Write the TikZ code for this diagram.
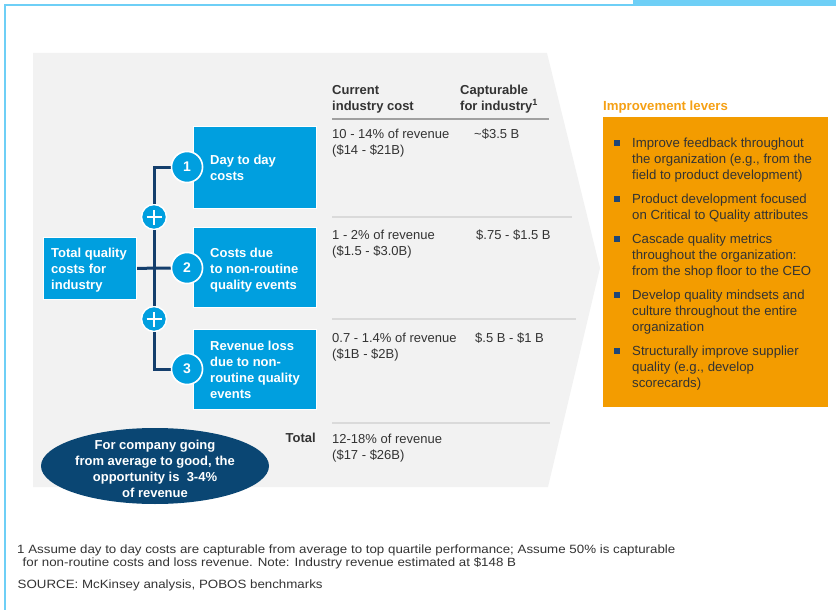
\documentclass[tikz,border=0pt]{standalone}
\usepackage{fontspec}
\setmainfont{Liberation Sans}
\usetikzlibrary{shapes.geometric}
\definecolor{frameblue}{RGB}{110,207,246}
\definecolor{graybg}{RGB}{242,242,242}
\definecolor{boxblue}{RGB}{0,159,223}
\definecolor{navyline}{RGB}{20,62,108}
\definecolor{ellnavy}{RGB}{10,70,115}
\definecolor{levorange}{RGB}{243,156,0}
\definecolor{titleorange}{RGB}{245,160,20}
\definecolor{textgray}{RGB}{51,51,51}
\definecolor{hdrgray}{RGB}{160,160,160}
\definecolor{rowgray}{RGB}{218,218,218}
\definecolor{bulletnavy}{RGB}{30,70,120}
\newcommand\fl{\rule{0pt}{11pt}}
\begin{document}
\begin{tikzpicture}[x=1pt,y=-1pt,
  bluebox/.style={draw=white, line width=1.2pt, fill=boxblue, inner sep=0, anchor=north west},
  boxtext/.style={anchor=north west, inner sep=0, align=left, text=white, font=\bfseries\fontsize{13}{15.8}\selectfont},
  numcircle/.style={circle, fill=boxblue, draw=white, line width=1.5pt, minimum size=31, inner sep=0, text=white, font=\bfseries\fontsize{14}{14}\selectfont},
  pluscircle/.style={circle, fill=boxblue, draw=white, line width=1.5pt, minimum size=25, inner sep=0},
  conn/.style={draw=navyline, line width=3pt},
  hdr/.style={anchor=north west, inner sep=0, align=left, text=textgray, font=\bfseries\fontsize{13}{16}\selectfont},
  tabtext/.style={anchor=north west, inner sep=0, align=left, text=textgray, font=\fontsize{13}{16}\selectfont},
  levtext/.style={anchor=north west, inner sep=0, align=left, text=textgray, font=\fontsize{13.2}{16}\selectfont},
  bsq/.style={rectangle, fill=bulletnavy, minimum size=5.5, inner sep=0},
  foot/.style={anchor=north west, inner sep=0, align=left, text=textgray, font=\fontsize{12}{12.4}\selectfont\addfontfeature{FakeStretch=1.11}}
]
\useasboundingbox (0,0) rectangle (836,610);
% frame
\fill[frameblue] (633,0) rectangle (836,6);
\draw[frameblue, line width=2pt] (5,610) -- (5,5) -- (634,5);
% gray chevron
\fill[graybg] (33,53) -- (547,53) -- (600,268) -- (548,487) -- (33,487) -- cycle;

% boxes
\node[bluebox, minimum width=93, minimum height=62] (b0) at (43,237) {};
\node[bluebox, minimum width=123, minimum height=82] (b1) at (193,126) {};
\node[bluebox, minimum width=123, minimum height=80] (b2) at (193,227) {};
\node[bluebox, minimum width=123, minimum height=80] (b3) at (193,329) {};
\node[boxtext] (t0) at (51,246.3) {\fl Total quality\\costs for\\industry};
\node[boxtext] (t1) at (210,153) {\fl Day to day\\costs};
\node[boxtext] (t2) at (210,246.7) {\fl Costs due\\to non-routine\\quality events};
\node[boxtext] (t3) at (210,339.5) {\fl Revenue loss\\due to non-\\routine quality\\events};

% circles
\node[numcircle] (c1) at (187,167) {1};
\node[numcircle] (c2) at (187,268) {2};
\node[numcircle] (c3) at (187,369) {3};
\node[pluscircle] (p1) at (154,217) {};
\node[pluscircle] (p2) at (154,319) {};

% connectors
\draw[conn] (c1) -| (p1);
\draw[conn] (p1) -- (p2);
\draw[conn] (p2) |- (c3);
\draw[conn] (b0) -- (c2);
\node[numcircle] at (c1) {1};
\node[numcircle] at (c2) {2};
\node[numcircle] at (c3) {3};
\foreach \p in {p1,p2}{
  \draw[white, line width=2.4pt] ([xshift=-7.5pt]\p.center) -- ([xshift=7.5pt]\p.center);
  \draw[white, line width=2.4pt] ([yshift=-7.5pt]\p.center) -- ([yshift=7.5pt]\p.center);
}

% ellipse
\node[ellipse, fill=ellnavy, minimum width=228, minimum height=76, inner sep=0] (ell) at (155,466) {};
\node[anchor=north, inner sep=0, align=center, text=white, font=\bfseries\fontsize{13}{16}\selectfont] (ellt) at (155,438) {\fl For company going\\from average to good, the\\opportunity is\ \ 3-4\%\\of revenue};

% table
\node[hdr] (h1) at (332,83) {\fl Current\\industry cost};
\node[hdr] (h2) at (460,83) {\fl Capturable\\for industry\textsuperscript{1}};
\draw[hdrgray, line width=1.8pt] (332,119) -- (549,119);
\draw[rowgray, line width=1.8pt] (332,216.7) -- (572,216.7);
\draw[rowgray, line width=1.8pt] (332,319.3) -- (576,319.3);
\draw[rowgray, line width=1.8pt] (332,423.3) -- (550,423.3);

\node[tabtext] (r1a) at (332,127.7) {\fl 10 - 14\% of revenue\\(\$14 - \$21B)};
\node[tabtext] (r1b) at (474,127.7) {\fl \textasciitilde\$3.5 B};
\node[tabtext] (r2a) at (332,228.7) {\fl 1 - 2\% of revenue\\(\$1.5 - \$3.0B)};
\node[tabtext] (r2b) at (476,228.7) {\fl \$.75 - \$1.5 B};
\node[tabtext] (r3a) at (332,331) {\fl 0.7 - 1.4\% of revenue\\(\$1B - \$2B)};
\node[tabtext] (r3b) at (475,331) {\fl \$.5 B - \$1 B};
\node[tabtext] (tota) at (332,432) {\fl 12-18\% of revenue\\(\$17 - \$26B)};
\node[anchor=north east, inner sep=0, text=textgray, font=\bfseries\fontsize{13}{16}\selectfont] (totl) at (316,431.7) {\fl Total};

% improvement levers
\node[anchor=north west, inner sep=0, text=titleorange, font=\bfseries\fontsize{13.2}{16}\selectfont] (levt) at (603,99) {\fl Improvement levers};
\node[fill=levorange, minimum width=225, minimum height=290, anchor=north west, inner sep=0] (lev) at (603,117) {};
\node[bsq] (s1) at (617,142.8) {};
\node[bsq] (s2) at (617,199.2) {};
\node[bsq] (s3) at (617,239.2) {};
\node[bsq] (s4) at (617,294.8) {};
\node[bsq] (s5) at (617,350.8) {};
\node[levtext] (l1) at (632,136.3) {\fl Improve feedback throughout\\the organization (e.g., from the\\field to product development)};
\node[levtext] (l2) at (632,192.7) {\fl Product development focused\\on Critical to Quality attributes};
\node[levtext] (l3) at (632,232.7) {\fl Cascade quality metrics\\throughout the organization:\\from the shop floor to the CEO};
\node[levtext] (l4) at (632,288.3) {\fl Develop quality mindsets and\\culture throughout the entire\\organization};
\node[levtext] (l5) at (632,344.3) {\fl Structurally improve supplier\\quality (e.g., develop\\scorecards)};

% footnotes
\node[foot] (f1) at (17,542.5) {\fl 1 Assume day to day costs are capturable from average to top quartile performance; Assume 50\% is capturable\\\hspace*{5.5pt}for non-routine costs and loss revenue. Note: Industry revenue estimated at \$148 B};
\node[foot] (f2) at (17.5,577.7) {\fl SOURCE: McKinsey analysis, POBOS benchmarks};
\end{tikzpicture}
\end{document}
